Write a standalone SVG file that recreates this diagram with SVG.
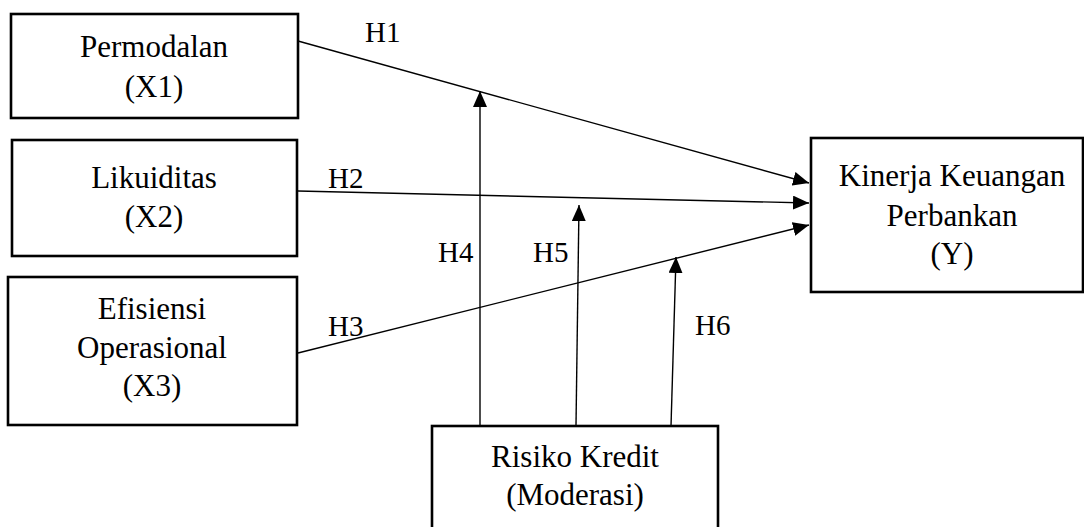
<svg xmlns="http://www.w3.org/2000/svg" width="1084" height="527" viewBox="0 0 1084 527">
<style>
.box{fill:#fff;stroke:#000;stroke-width:2.6}
text{font-family:'Liberation Serif','Times New Roman',serif;fill:#000}
.t{font-size:31px;text-anchor:middle}
.h{font-size:29px}
.c{stroke:#000;stroke-width:1.4;fill:none;marker-end:url(#ah)}
</style>
<defs>
<marker id="ah" markerUnits="userSpaceOnUse" markerWidth="17" markerHeight="15" refX="16" refY="7" orient="auto">
<path d="M0,0 L16,7 L0,14 z" fill="#000"/>
</marker>
</defs>
<rect width="1084" height="527" fill="#fff"/>
<g id="x1">
<rect class="box" x="11" y="14" width="287" height="104"/>
<text class="t" x="154" y="57">Permodalan</text>
<text class="t" x="154" y="97">(X1)</text>
</g>
<g id="x2">
<rect class="box" x="12" y="140" width="285" height="116"/>
<text class="t" x="154" y="188">Likuiditas</text>
<text class="t" x="154" y="227">(X2)</text>
</g>
<g id="x3">
<rect class="box" x="8" y="277" width="289" height="148"/>
<text class="t" x="152" y="319">Efisiensi</text>
<text class="t" x="152" y="358">Operasional</text>
<text class="t" x="152" y="396">(X3)</text>
</g>
<g id="y">
<rect class="box" x="811" y="138" width="272" height="154"/>
<text class="t" x="952" y="186">Kinerja Keuangan</text>
<text class="t" x="952" y="226">Perbankan</text>
<text class="t" x="952" y="264">(Y)</text>
</g>
<g id="moderasi">
<rect class="box" x="432" y="426" width="286" height="130"/>
<text class="t" x="575" y="467">Risiko Kredit</text>
<text class="t" x="575" y="505">(Moderasi)</text>
</g>
<g id="connectors">
<line class="c" x1="298" y1="41" x2="809" y2="183"/>
<line class="c" x1="298" y1="191" x2="809" y2="203"/>
<line class="c" x1="298" y1="353" x2="809" y2="225"/>
<line class="c" x1="480" y1="426" x2="480" y2="91"/>
<line class="c" x1="576" y1="426" x2="579" y2="205"/>
<line class="c" x1="671" y1="426" x2="676" y2="257"/>
</g>
<g id="labels">
<text class="h" x="365" y="42">H1</text>
<text class="h" x="328" y="188">H2</text>
<text class="h" x="328" y="336">H3</text>
<text class="h" x="438" y="262">H4</text>
<text class="h" x="533" y="262">H5</text>
<text class="h" x="695" y="335">H6</text>
</g>
</svg>
